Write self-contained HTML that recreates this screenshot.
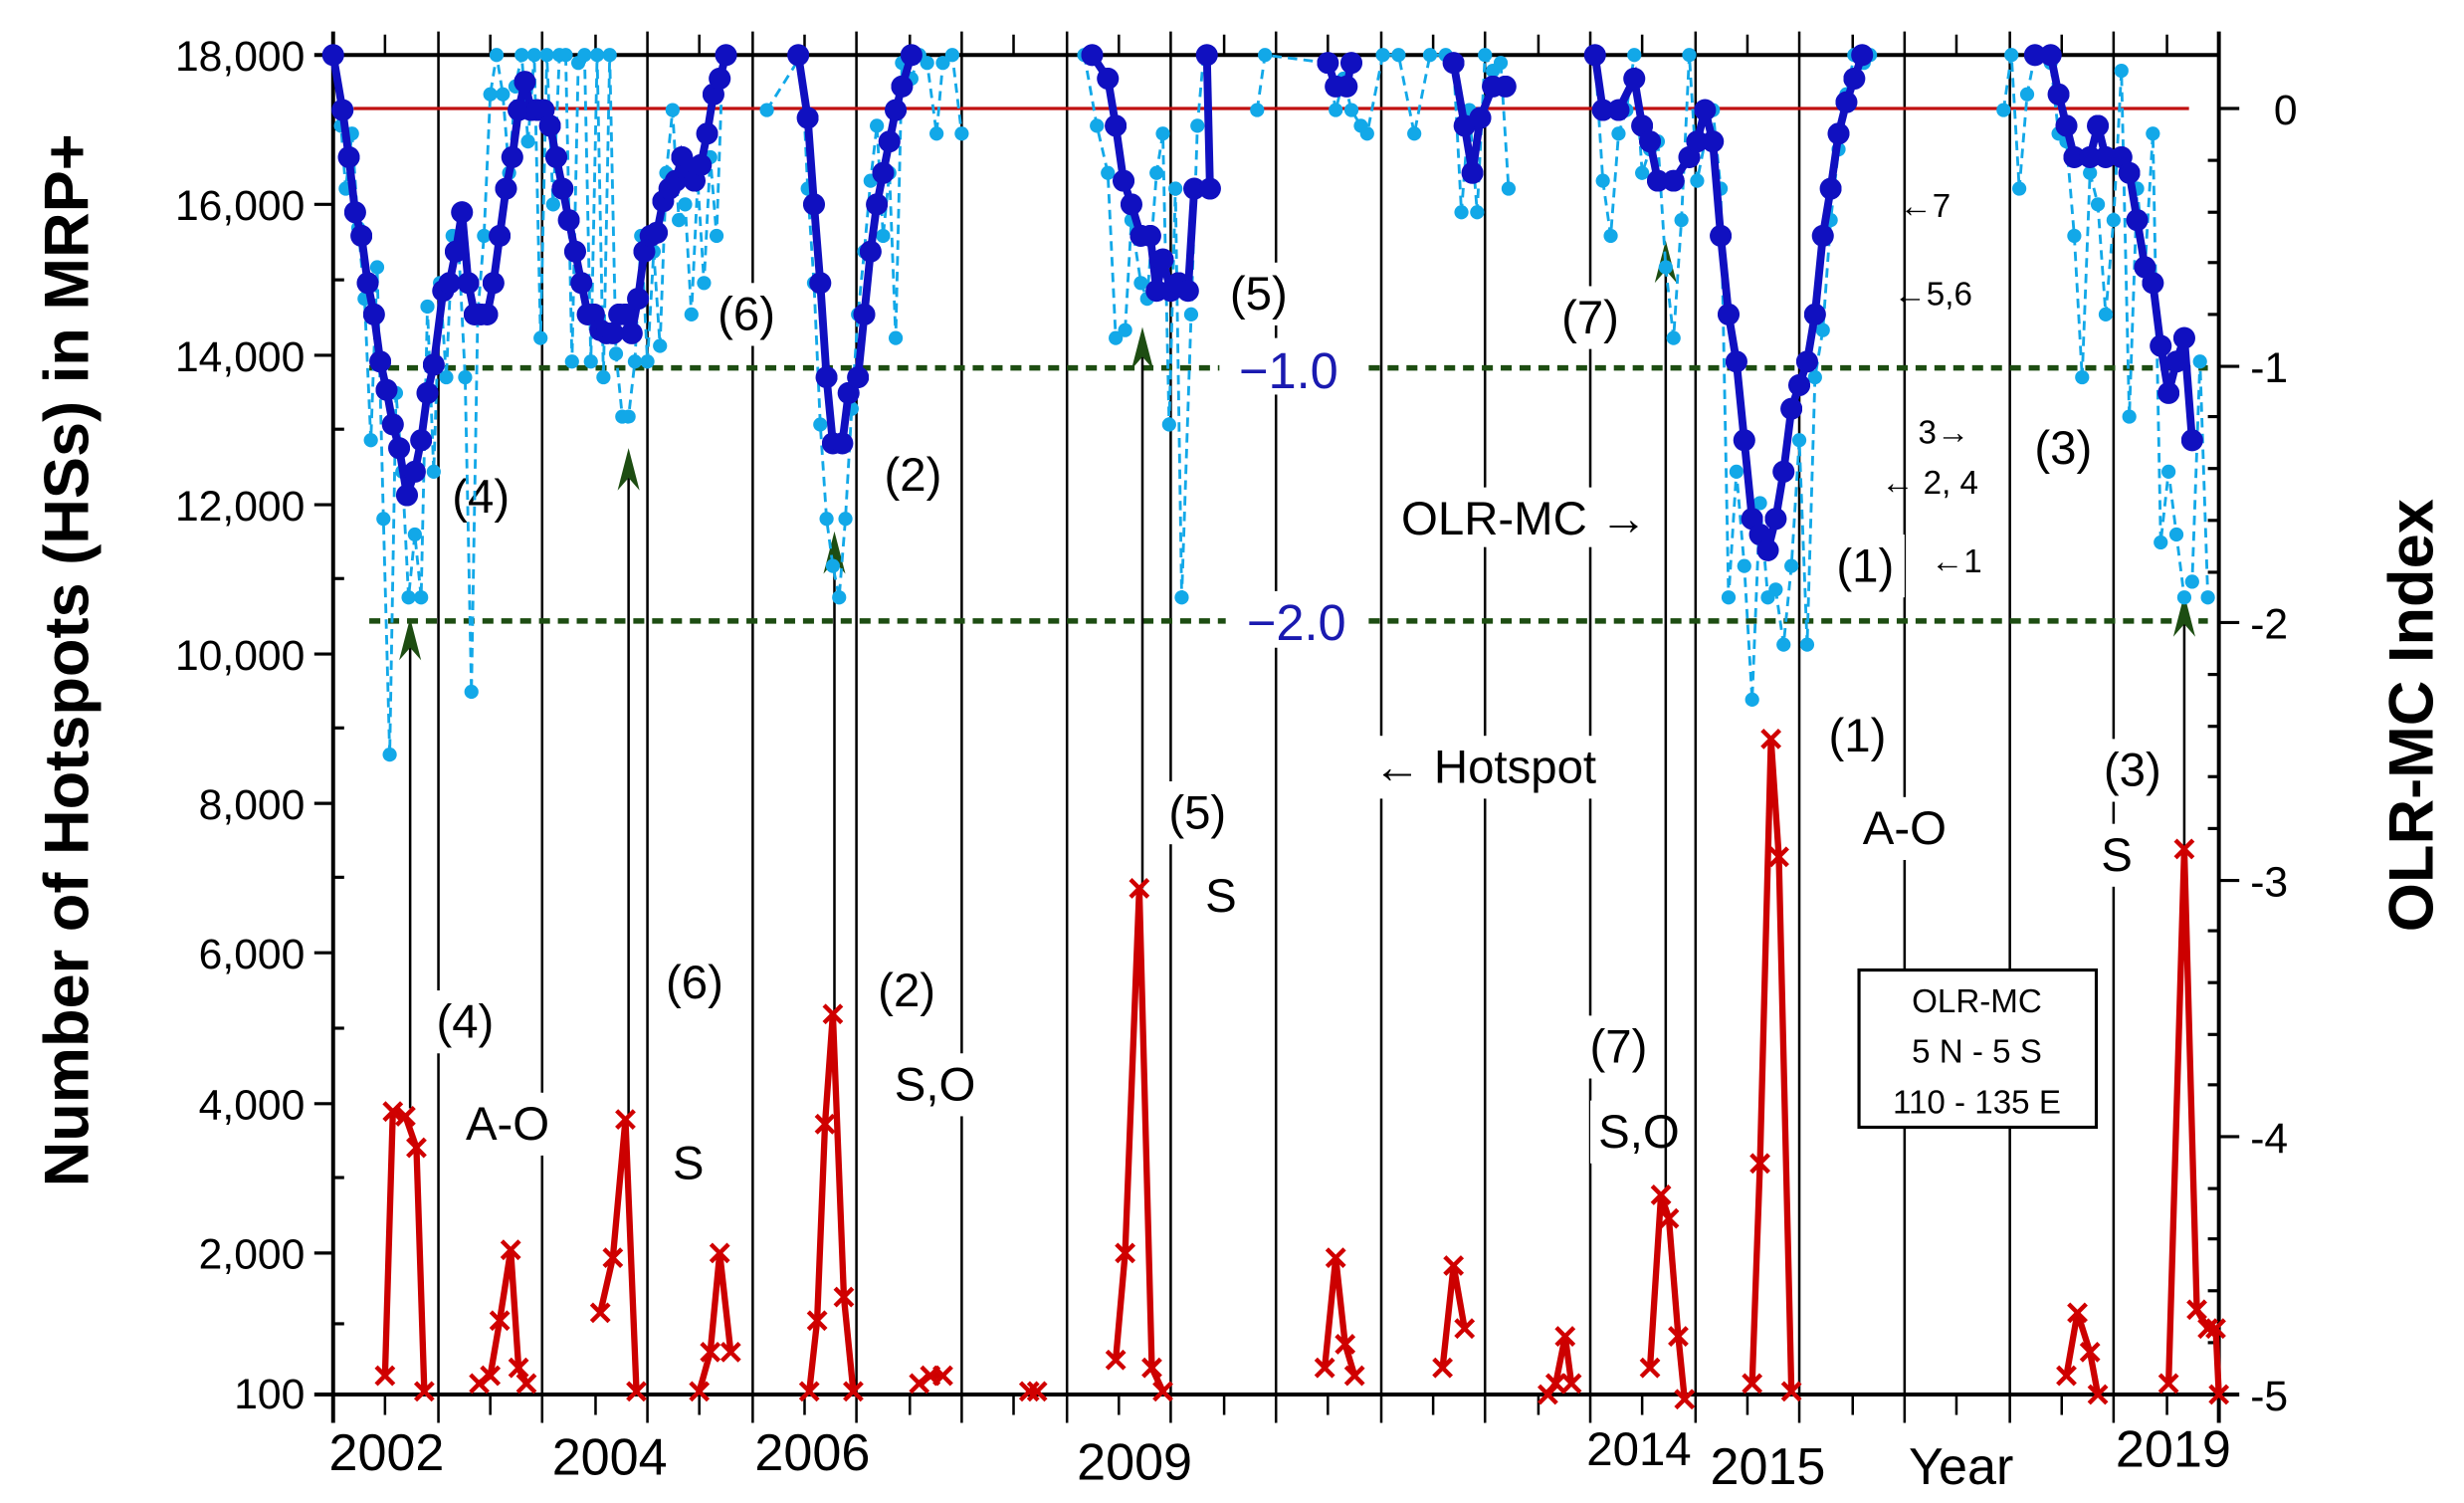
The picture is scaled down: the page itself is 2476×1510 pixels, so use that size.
<!DOCTYPE html>
<html><head><meta charset="utf-8"><style>
html,body{margin:0;padding:0;background:#fff;width:2476px;height:1510px;overflow:hidden}
svg{display:block}
text{font-family:"Liberation Sans",sans-serif}
</style></head><body>
<svg width="2476" height="1510" viewBox="0 0 1568 956" preserveAspectRatio="none" xmlns="http://www.w3.org/2000/svg">
<defs>
<marker id="dot" viewBox="0 0 10 10" refX="5" refY="5" markerWidth="10" markerHeight="10" markerUnits="userSpaceOnUse"><circle cx="5" cy="5" r="4.5" fill="#12a8e8"/></marker>
<marker id="bdot" viewBox="0 0 10 10" refX="5" refY="5" markerWidth="14" markerHeight="14" markerUnits="userSpaceOnUse"><circle cx="5" cy="5" r="5" fill="#1010c0"/></marker>
<marker id="x" viewBox="0 0 10 10" refX="5" refY="5" markerWidth="14" markerHeight="14" markerUnits="userSpaceOnUse"><path d="M1 1L9 9M9 1L1 9" stroke="#d00000" stroke-width="2"/></marker>
</defs>
<g stroke="#000" stroke-width="1.6">
<line x1="279" y1="20" x2="279" y2="905"/><line x1="345" y1="20" x2="345" y2="905"/><line x1="412" y1="20" x2="412" y2="905"/><line x1="479" y1="20" x2="479" y2="905"/><line x1="545" y1="20" x2="545" y2="905"/><line x1="612" y1="20" x2="612" y2="905"/><line x1="679" y1="20" x2="679" y2="905"/><line x1="745" y1="20" x2="745" y2="905"/><line x1="812" y1="20" x2="812" y2="905"/><line x1="879" y1="20" x2="879" y2="905"/><line x1="945" y1="20" x2="945" y2="905"/><line x1="1012" y1="20" x2="1012" y2="905"/><line x1="1079" y1="20" x2="1079" y2="905"/><line x1="1145" y1="20" x2="1145" y2="905"/><line x1="1212" y1="20" x2="1212" y2="905"/><line x1="1279" y1="20" x2="1279" y2="905"/><line x1="1345" y1="20" x2="1345" y2="905"/>
</g>
<g stroke="#000" stroke-width="1.6">
<line x1="245" y1="887" x2="245" y2="900"/><line x1="312" y1="887" x2="312" y2="900"/><line x1="379" y1="887" x2="379" y2="900"/><line x1="445" y1="887" x2="445" y2="900"/><line x1="512" y1="887" x2="512" y2="900"/><line x1="579" y1="887" x2="579" y2="900"/><line x1="645" y1="887" x2="645" y2="900"/><line x1="712" y1="887" x2="712" y2="900"/><line x1="779" y1="887" x2="779" y2="900"/><line x1="845" y1="887" x2="845" y2="900"/><line x1="912" y1="887" x2="912" y2="900"/><line x1="979" y1="887" x2="979" y2="900"/><line x1="1045" y1="887" x2="1045" y2="900"/><line x1="1112" y1="887" x2="1112" y2="900"/><line x1="1179" y1="887" x2="1179" y2="900"/><line x1="1245" y1="887" x2="1245" y2="900"/><line x1="1312" y1="887" x2="1312" y2="900"/><line x1="1379" y1="887" x2="1379" y2="900"/>
<line x1="245" y1="22" x2="245" y2="35"/><line x1="312" y1="22" x2="312" y2="35"/><line x1="379" y1="22" x2="379" y2="35"/><line x1="445" y1="22" x2="445" y2="35"/><line x1="512" y1="22" x2="512" y2="35"/><line x1="579" y1="22" x2="579" y2="35"/><line x1="645" y1="22" x2="645" y2="35"/><line x1="712" y1="22" x2="712" y2="35"/><line x1="779" y1="22" x2="779" y2="35"/><line x1="845" y1="22" x2="845" y2="35"/><line x1="912" y1="22" x2="912" y2="35"/><line x1="979" y1="22" x2="979" y2="35"/><line x1="1045" y1="22" x2="1045" y2="35"/><line x1="1112" y1="22" x2="1112" y2="35"/><line x1="1179" y1="22" x2="1179" y2="35"/><line x1="1245" y1="22" x2="1245" y2="35"/><line x1="1312" y1="22" x2="1312" y2="35"/><line x1="1379" y1="22" x2="1379" y2="35"/>
</g>
<g stroke="#000" stroke-width="2.5">
<line x1="212" y1="20" x2="212" y2="905"/><line x1="1412" y1="20" x2="1412" y2="905"/>
<line x1="200" y1="35" x2="1412" y2="35"/><line x1="200" y1="887" x2="1425" y2="887"/>
</g>
<g stroke="#000" stroke-width="2">
<line x1="200" y1="130" x2="212" y2="130"/><line x1="200" y1="226" x2="212" y2="226"/><line x1="200" y1="321" x2="212" y2="321"/><line x1="200" y1="416" x2="212" y2="416"/><line x1="200" y1="511" x2="212" y2="511"/><line x1="200" y1="606" x2="212" y2="606"/><line x1="200" y1="702" x2="212" y2="702"/><line x1="200" y1="797" x2="212" y2="797"/>
<line x1="212" y1="82" x2="219" y2="82"/><line x1="212" y1="178" x2="219" y2="178"/><line x1="212" y1="273" x2="219" y2="273"/><line x1="212" y1="368" x2="219" y2="368"/><line x1="212" y1="463" x2="219" y2="463"/><line x1="212" y1="558" x2="219" y2="558"/><line x1="212" y1="654" x2="219" y2="654"/><line x1="212" y1="749" x2="219" y2="749"/><line x1="212" y1="842" x2="219" y2="842"/>
<line x1="1412" y1="69" x2="1425" y2="69"/><line x1="1412" y1="233" x2="1425" y2="233"/><line x1="1412" y1="396" x2="1425" y2="396"/><line x1="1412" y1="560" x2="1425" y2="560"/><line x1="1412" y1="723" x2="1425" y2="723"/>
<line x1="1405" y1="102" x2="1412" y2="102"/><line x1="1405" y1="135" x2="1412" y2="135"/><line x1="1405" y1="167" x2="1412" y2="167"/><line x1="1405" y1="200" x2="1412" y2="200"/><line x1="1405" y1="265" x2="1412" y2="265"/><line x1="1405" y1="298" x2="1412" y2="298"/><line x1="1405" y1="331" x2="1412" y2="331"/><line x1="1405" y1="364" x2="1412" y2="364"/><line x1="1405" y1="429" x2="1412" y2="429"/><line x1="1405" y1="462" x2="1412" y2="462"/><line x1="1405" y1="494" x2="1412" y2="494"/><line x1="1405" y1="527" x2="1412" y2="527"/><line x1="1405" y1="592" x2="1412" y2="592"/><line x1="1405" y1="625" x2="1412" y2="625"/><line x1="1405" y1="658" x2="1412" y2="658"/><line x1="1405" y1="690" x2="1412" y2="690"/><line x1="1405" y1="756" x2="1412" y2="756"/><line x1="1405" y1="788" x2="1412" y2="788"/><line x1="1405" y1="821" x2="1412" y2="821"/><line x1="1405" y1="854" x2="1412" y2="854"/>
</g>
<line x1="225" y1="69" x2="1393" y2="69" stroke="#c01010" stroke-width="2"/>
<line x1="235" y1="234" x2="1405" y2="234" stroke="#1d4d12" stroke-width="3.5" stroke-dasharray="7,5"/>
<line x1="235" y1="395" x2="1405" y2="395" stroke="#1d4d12" stroke-width="3.5" stroke-dasharray="7,5"/>
<g font-size="30" fill="#000">
<rect x="776" y="215" width="90" height="36" fill="#fff"/><text x="820" y="247" text-anchor="middle" fill="#1a1ab0" font-size="32">−1.0</text>
<rect x="780" y="376" width="90" height="36" fill="#fff"/><text x="825" y="407" text-anchor="middle" fill="#1a1ab0" font-size="32">−2.0</text>
<rect x="855" y="468" width="180" height="40" fill="#fff"/><text x="945" y="498" text-anchor="middle">← Hotspot</text>
<rect x="885" y="310" width="175" height="38" fill="#fff"/><text x="970" y="340" text-anchor="middle">OLR-MC →</text>
<rect x="275" y="630" width="50" height="40" fill="#fff"/><text x="296" y="660" text-anchor="middle">(4)</text>
<rect x="290" y="695" width="66" height="40" fill="#fff"/><text x="323" y="725" text-anchor="middle">A-O</text>
<rect x="415" y="605" width="52" height="40" fill="#fff"/><text x="442" y="635" text-anchor="middle">(6)</text>
<rect x="425" y="720" width="30" height="40" fill="#fff"/><text x="438" y="750" text-anchor="middle">S</text>
<rect x="552" y="610" width="50" height="40" fill="#fff"/><text x="577" y="640" text-anchor="middle">(2)</text>
<rect x="565" y="670" width="62" height="40" fill="#fff"/><text x="595" y="700" text-anchor="middle">S,O</text>
<rect x="738" y="497" width="50" height="40" fill="#fff"/><text x="762" y="527" text-anchor="middle">(5)</text>
<rect x="763" y="550" width="30" height="40" fill="#fff"/><text x="777" y="580" text-anchor="middle">S</text>
<rect x="1004" y="646" width="52" height="40" fill="#fff"/><text x="1030" y="676" text-anchor="middle">(7)</text>
<rect x="1012" y="700" width="62" height="40" fill="#fff"/><text x="1043" y="730" text-anchor="middle">S,O</text>
<rect x="1156" y="448" width="52" height="40" fill="#fff"/><text x="1182" y="478" text-anchor="middle">(1)</text>
<rect x="1180" y="507" width="66" height="40" fill="#fff"/><text x="1212" y="537" text-anchor="middle">A-O</text>
<rect x="1330" y="470" width="52" height="40" fill="#fff"/><text x="1357" y="500" text-anchor="middle">(3)</text>
<rect x="1333" y="524" width="30" height="40" fill="#fff"/><text x="1347" y="554" text-anchor="middle">S</text>
<rect x="1183" y="617" width="151" height="100" fill="#fff" stroke="#000" stroke-width="2"/>
<text x="1258" y="644" text-anchor="middle" font-size="21">OLR-MC</text>
<text x="1258" y="676" text-anchor="middle" font-size="21">5 N - 5 S</text>
<text x="1258" y="708" text-anchor="middle" font-size="21">110 - 135 E</text>
<rect x="443" y="180" width="62" height="40" fill="#fff"/><text x="475" y="210" text-anchor="middle">(6)</text>
<rect x="280" y="296" width="52" height="40" fill="#fff"/><text x="306" y="326" text-anchor="middle">(4)</text>
<rect x="555" y="282" width="52" height="40" fill="#fff"/><text x="581" y="312" text-anchor="middle">(2)</text>
<rect x="777" y="167" width="50" height="40" fill="#fff"/><text x="801" y="197" text-anchor="middle">(5)</text>
<rect x="985" y="182" width="55" height="40" fill="#fff"/><text x="1012" y="212" text-anchor="middle">(7)</text>
<rect x="1287" y="265" width="52" height="40" fill="#fff"/><text x="1313" y="295" text-anchor="middle">(3)</text>
<rect x="1160" y="340" width="52" height="40" fill="#fff"/><text x="1187" y="370" text-anchor="middle">(1)</text>
</g>
<g font-size="21" fill="#000">
<text x="1225" y="138" text-anchor="middle">←7</text>
<text x="1230" y="194" text-anchor="middle">←5,6</text>
<text x="1237" y="282" text-anchor="middle">3→</text>
<text x="1228" y="314" text-anchor="middle">← 2, 4</text>
<text x="1245" y="364" text-anchor="middle">←1</text>
</g>
<g stroke="#000" stroke-width="1.6">
<line x1="261" y1="400" x2="261" y2="705"/><line x1="400" y1="290" x2="400" y2="710"/><line x1="531" y1="345" x2="531" y2="645"/><line x1="727" y1="215" x2="727" y2="565"/><line x1="1060" y1="160" x2="1060" y2="758"/><line x1="1390" y1="385" x2="1390" y2="540"/>
</g>
<g fill="#1d4d12">
<path d="M261 393 L254 420 L261 412 L268 420Z"/><path d="M400 285 L393 312 L400 304 L407 312Z"/><path d="M531 338 L524 365 L531 357 L538 365Z"/><path d="M727 208 L720 235 L727 227 L734 235Z"/><path d="M1060 153 L1053 180 L1060 172 L1067 180Z"/><path d="M1390 378 L1383 405 L1390 397 L1397 405Z"/>
</g>
<g fill="none" stroke="#12a8e8" stroke-width="1.8" stroke-dasharray="6,4" marker-start="url(#dot)" marker-mid="url(#dot)" marker-end="url(#dot)">
<polyline points="213,35 217,80 220,120 224,85 228,145 232,190 236,280 240,170 244,330 248,480 252,250 256,300 260,380 264,340 268,380 272,195 276,300 280,180 284,240 288,150 292,160 296,240 300,440 304,200 308,150 312,60 316,35 320,60 324,110 328,55 332,35 336,90 340,35 344,215 348,35 352,130 356,35 360,35 364,230 368,40 372,35 376,230 380,35 384,240 388,35 392,225 396,265 400,265 404,230 408,150 412,230 416,160 420,220 424,110 428,70 432,140 436,130 440,200 444,115 448,180 452,100 456,150 460,35"/>
<polyline points="488,70 510,35 514,120 518,180 522,270 526,330 530,360 534,380 538,330 542,260 546,200 550,160 554,115 558,80 562,150 566,110 570,215 574,40 580,50 585,35 590,40 596,85 600,40 606,35 612,85"/>
<polyline points="690,35 698,80 705,110 710,215 716,210 720,140 726,180 730,190 736,110 740,85 744,270 748,120 752,380 758,200 762,80 766,35"/>
<polyline points="800,70 805,35 845,40 850,70 855,50 860,70 866,80 870,85 880,35 890,35 900,85 910,35 920,35 925,40 930,135 935,70 940,135 945,35 950,45 955,40 960,120"/>
<polyline points="1015,35 1020,115 1025,150 1030,85 1035,70 1040,35 1045,110 1050,95 1055,90 1060,170 1065,215 1070,140 1075,35 1080,115 1085,90 1090,70 1095,120 1100,380 1105,300 1110,360 1115,445 1120,320 1125,380 1130,375 1135,410 1140,360 1145,280 1150,410 1155,240 1160,210 1165,140 1170,95 1175,60 1180,35 1186,40 1190,35"/>
<polyline points="1275,70 1280,35 1285,120 1290,60 1295,35 1305,40 1310,85 1315,90 1320,150 1325,240 1330,110 1335,130 1340,200 1345,140 1350,45 1355,265 1360,120 1365,170 1370,85 1375,345 1380,300 1385,340 1390,380 1395,370 1400,230 1405,380"/>
</g>
<g fill="none" stroke="#1010c0" stroke-width="5" marker-start="url(#bdot)" marker-mid="url(#bdot)" marker-end="url(#bdot)">
<polyline points="212,35 218,70 222,100 226,135 230,150 234,180 238,200 242,230 246,248 250,270 254,285 259,315 264,300 268,280 272,250 276,232 282,185 286,180 290,160 294,135 298,180 302,200 306,200 310,200 314,180 318,150 322,120 326,100 330,70 334,52 338,70 342,70 346,70 350,80 354,100 358,120 362,140 366,160 370,180 374,200 378,200 382,210 386,212 390,212 394,200 398,200 402,212 406,190 410,160 414,150 418,148 422,128 426,120 430,115 434,100 438,110 442,115 446,105 450,85 454,60 458,50 462,35"/>
<polyline points="508,35 514,75 518,130 522,180 526,240 530,282 536,282 540,250 546,240 550,200 554,160 558,130 562,110 566,90 570,70 574,55 580,35"/>
<polyline points="695,35 705,50 710,80 715,115 720,130 726,150 732,150 736,185 740,165 745,185 750,180 756,185 760,120 770,120 768,35"/>
<polyline points="845,40 850,55 857,55 860,40"/>
<polyline points="925,40 932,80 937,110 942,75 950,55 958,55"/>
<polyline points="1015,35 1020,70 1030,70 1040,50 1045,80 1050,90 1055,115 1065,115 1075,100 1080,90 1085,70 1090,90 1095,150 1100,200 1105,230 1110,280 1115,330 1120,340 1125,350 1130,330 1135,300 1140,260 1145,245 1150,230 1155,200 1160,150 1165,120 1170,85 1175,65 1180,50 1185,35"/>
<polyline points="1295,35 1305,35 1310,60 1315,80 1320,100 1330,100 1335,80 1340,100 1350,100 1355,110 1360,140 1365,170 1370,180 1375,220 1380,250 1385,230 1390,215 1395,280"/>
</g>
<g fill="none" stroke="#cc0000" stroke-width="4" marker-start="url(#x)" marker-mid="url(#x)" marker-end="url(#x)">
<polyline points="245,875 250,707 258,710 265,730 270,885"/>
<polyline points="305,880 312,875 318,840 325,795 330,870 335,880"/>
<polyline points="382,835 390,800 398,712 405,885"/>
<polyline points="445,885 452,860 458,797 465,860"/>
<polyline points="515,885 520,840 525,715 530,645 537,825 543,885"/>
<polyline points="585,880 592,875 600,875"/>
<polyline points="655,885 660,885"/>
<polyline points="710,865 716,797 725,565 733,870 740,885"/>
<polyline points="843,870 850,800 856,855 862,875"/>
<polyline points="918,870 925,805 932,845"/>
<polyline points="985,887 990,880 996,850 1000,880"/>
<polyline points="1050,870 1057,760 1062,775 1068,850 1072,890"/>
<polyline points="1115,880 1120,740 1127,470 1132,545 1140,885"/>
<polyline points="1315,875 1322,835 1330,860 1335,887"/>
<polyline points="1380,880 1390,540 1398,833 1405,845 1410,845 1412,887"/>
</g>
<g font-size="27" fill="#000" text-anchor="end">
<text x="194" y="45">18,000</text><text x="194" y="140">16,000</text><text x="194" y="236">14,000</text><text x="194" y="331">12,000</text><text x="194" y="426">10,000</text><text x="194" y="521">8,000</text><text x="194" y="616">6,000</text><text x="194" y="712">4,000</text><text x="194" y="807">2,000</text><text x="194" y="896">100</text>
</g>
<g font-size="27" fill="#000">
<text x="1447" y="79">0</text><text x="1432" y="243">-1</text><text x="1432" y="406">-2</text><text x="1432" y="570">-3</text><text x="1432" y="733">-4</text><text x="1432" y="897">-5</text>
</g>
<g font-size="33" fill="#000" text-anchor="middle">
<text x="246" y="935">2002</text><text x="388" y="938">2004</text><text x="517" y="935">2006</text><text x="722" y="941">2009</text><text x="1043" y="932" font-size="30">2014</text><text x="1125" y="944">2015</text><text x="1248" y="944">Year</text><text x="1383" y="933">2019</text>
</g>
<text transform="translate(56,420) rotate(-90)" text-anchor="middle" font-size="40" font-weight="bold">Number of Hotspots (HSs) in MRP+</text>
<text transform="translate(1548,455) rotate(-90)" text-anchor="middle" font-size="40" font-weight="bold">OLR-MC Index</text>
</svg>
</body></html>
